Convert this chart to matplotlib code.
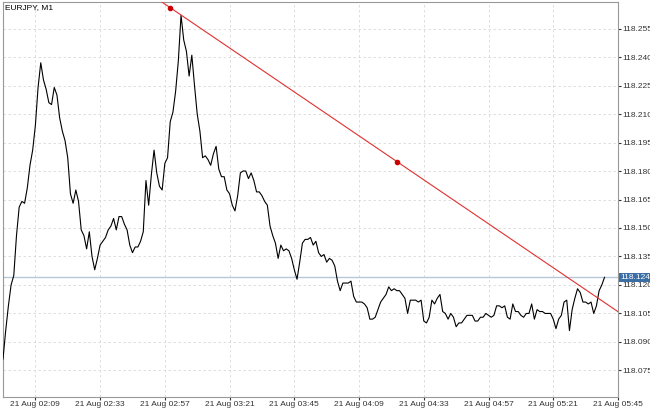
import matplotlib
matplotlib.use("Agg")
import matplotlib.pyplot as plt
import numpy as np

plt.rcParams['font.family'] = ['Liberation Sans', 'DejaVu Sans']

prices = [118.081,118.096,118.109,118.120,118.125,118.146,118.161,118.164,118.163,118.171,
118.183,118.191,118.204,118.224,118.237,118.228,118.223,118.216,118.215,118.224,
118.220,118.208,118.201,118.196,118.187,118.168,118.163,118.170,118.164,118.149,
118.146,118.139,118.148,118.135,118.128,118.134,118.141,118.143,118.145,118.149,
118.151,118.155,118.149,118.156,118.156,118.152,118.149,118.141,118.137,118.140,
118.140,118.143,118.148,118.175,118.162,118.178,118.191,118.179,118.172,118.170,
118.184,118.187,118.206,118.211,118.222,118.238,118.262,118.249,118.243,118.230,
118.241,118.225,118.210,118.201,118.187,118.188,118.186,118.183,118.189,118.193,
118.181,118.177,118.177,118.170,118.168,118.162,118.159,118.167,118.179,118.180,
118.180,118.176,118.179,118.175,118.169,118.169,118.167,118.164,118.162,118.151,
118.146,118.142,118.134,118.141,118.138,118.139,118.138,118.134,118.128,118.123,
118.132,118.142,118.144,118.144,118.145,118.141,118.143,118.137,118.135,118.136,
118.132,118.134,118.133,118.130,118.122,118.117,118.121,118.121,118.121,118.122,
118.114,118.111,118.111,118.111,118.110,118.108,118.102,118.102,118.103,118.107,
118.111,118.113,118.115,118.119,118.117,118.118,118.117,118.117,118.115,118.113,
118.105,118.112,118.112,118.112,118.111,118.112,118.101,118.100,118.103,118.112,
118.110,118.113,118.115,118.106,118.105,118.102,118.105,118.103,118.098,118.100,
118.100,118.102,118.104,118.104,118.104,118.101,118.101,118.103,118.103,118.105,
118.104,118.103,118.104,118.109,118.109,118.108,118.109,118.103,118.102,118.110,
118.106,118.106,118.104,118.103,118.105,118.105,118.110,118.102,118.107,118.106,
118.106,118.105,118.105,118.105,118.102,118.097,118.102,118.104,118.111,118.112,
118.096,118.107,118.113,118.118,118.116,118.111,118.111,118.110,118.111,118.105,
118.109,118.117,118.120,118.124]
trend_minutes = [62, 146]
trend_prices = [118.266, 118.185]
last_price = 118.124
yticks = [118.075,118.090,118.105,118.120,118.135,118.150,118.165,118.180,118.195,118.210,118.225,118.240,118.255]
xtick_labels = ["21 Aug 02:09","21 Aug 02:33","21 Aug 02:57","21 Aug 03:21","21 Aug 03:45",
                "21 Aug 04:09","21 Aug 04:33","21 Aug 04:57","21 Aug 05:21","21 Aug 05:45"]
xtick_minutes = [12 + 24*i for i in range(len(xtick_labels))]

fig = plt.figure(figsize=(6.5, 4.11), dpi=100)
ax = fig.add_axes([3/650, 14/411, 615/650, 395/411])
minutes = np.arange(len(prices))
ax.plot(minutes, prices, color="black", lw=0.8, zorder=3)
ax.axhline(last_price, color="#b8c8d8", lw=1, zorder=2)
ax.axline((trend_minutes[0], trend_prices[0]), (trend_minutes[1], trend_prices[1]),
          color="#e03030", lw=0.8, zorder=4)
ax.scatter(trend_minutes, trend_prices, color="#cc0000", s=9, zorder=5)

ax.set_xlim(0, 228)
ax.set_ylim(118.061, 118.269)
ax.yaxis.tick_right()
ax.set_yticks(yticks)
ax.set_yticklabels([f"{v:.3f}" for v in yticks])
ax.set_xticks(xtick_minutes)
ax.set_xticklabels(xtick_labels)
ax.tick_params(labelsize=6, colors="#333333", length=2, pad=1)
ax.grid(True, color="#d8d8d8", ls=(0, (3, 3)), lw=0.6)
for s in ax.spines.values():
    s.set_color("#999999")
ax.text(0.003, 0.995, "EURJPY, M1", transform=ax.transAxes, fontsize=6, va="top", ha="left")
ax.text(1.004, last_price, f"{last_price:.3f}", transform=ax.get_yaxis_transform(),
        fontsize=6, color="white", va="center", ha="left",
        bbox=dict(boxstyle="square,pad=0.12", fc="#3a6ea5", ec="none"))
fig.savefig("out.png", dpi=100)
